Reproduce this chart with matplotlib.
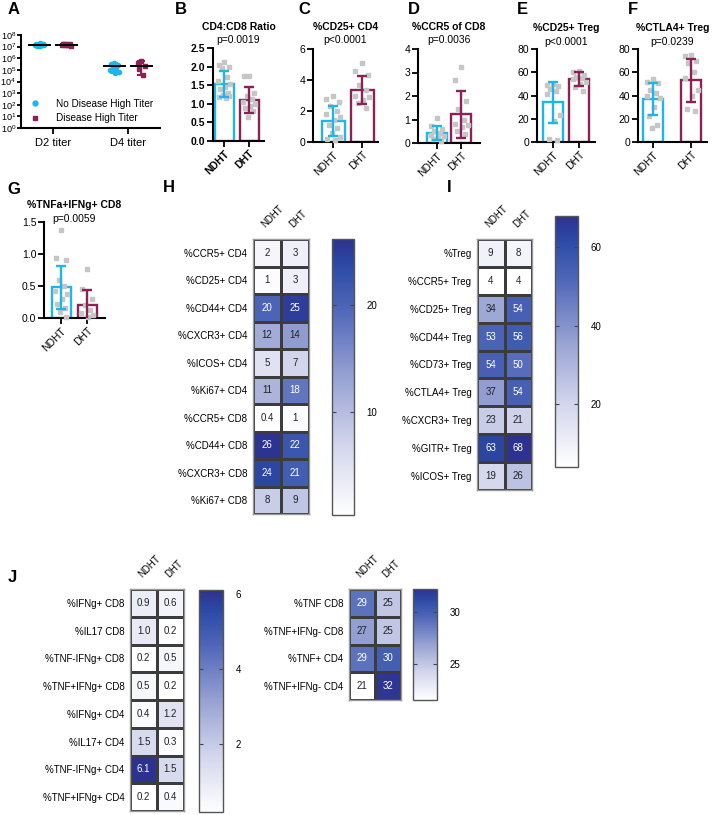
import numpy as np
import matplotlib
matplotlib.use("Agg")
import matplotlib.pyplot as plt
from matplotlib.colors import LinearSegmentedColormap
from matplotlib.lines import Line2D

plt.rcParams['font.family'] = ['Liberation Sans', 'DejaVu Sans']
plt.rcParams['mathtext.default'] = 'regular'

W, H = 714, 815
fig = plt.figure(figsize=(W / 100, H / 100), dpi=100)

CYAN = '#1DB6E9'
MAROON = '#8C2155'
PT = '#C6C6C6'

groups = ['NDHT', 'DHT']

# --- panel A: titers
titer_days = ['D2 titer', 'D4 titer']
a_nd_pts = [[1.9e7, 1.7e7, 1.6e7, 1.5e7, 1.45e7, 1.4e7, 1.3e7, 1.2e7, 1.1e7, 1.6e7],
            [4e5, 3e5, 2.5e5, 2e5, 1.5e5, 1e5, 6e4, 5e4]]
a_d_pts = [[1.8e7, 1.7e7, 1.6e7, 1.5e7, 1.4e7, 1.3e7, 1.2e7, 1.5e7, 1.65e7],
           [6e5, 4e5, 2e5, 1.2e5, 4e4]]
a_nd_mean = [1.5e7, 2.1e5]
a_nd_lo = [1.1e7, 5e4]
a_nd_hi = [1.9e7, 4e5]
a_d_mean = [1.5e7, 2.3e5]
a_d_lo = [1.15e7, 3.5e4]
a_d_hi = [1.8e7, 6e5]

# --- bar panels (mean, SD, points)
b_mean, b_sd = [1.52, 1.10], [0.35, 0.36]
b_nd = [2.12, 2.05, 1.98, 1.95, 1.72, 1.6, 1.52, 1.45, 1.4, 1.3, 1.25, 1.2, 1.18, 1.15]
b_d = [1.75, 1.75, 1.3, 1.2, 1.12, 1.05, 1.0, 0.95, 0.9, 0.8, 0.65]

c_mean, c_sd = [1.35, 3.35], [0.95, 0.92]
c_nd = [2.95, 2.75, 2.6, 2.3, 2.0, 1.8, 1.6, 1.4, 1.1, 0.9, 0.6, 0.3, 0.2, 0.1]
c_d = [5.1, 4.6, 4.3, 3.7, 3.35, 3.0, 2.9, 2.7, 2.5, 2.2]

d_mean, d_sd = [0.42, 1.23], [0.29, 1.0]
d_nd = [1.07, 0.72, 0.6, 0.5, 0.42, 0.35, 0.3, 0.2, 0.15, 0.1]
d_d = [3.25, 2.7, 1.8, 1.45, 1.0, 0.8, 0.75, 0.7, 0.5, 0.4]

e_mean, e_sd = [34, 54], [17.5, 6]
e_nd = [50, 49, 48, 46, 44, 41, 23, 18, 3, 2]
e_d = [61, 60, 58, 56, 55, 54, 52, 50, 47, 44]

f_mean, f_sd = [37, 53], [14, 18.5]
f_nd = [54, 52, 51, 45, 42, 40, 38, 30, 22, 15, 12]
f_d = [75, 74, 70, 68, 60, 55, 45, 40, 28, 27]

g_mean, g_sd = [0.48, 0.20], [0.34, 0.23]
g_nd = [1.37, 0.93, 0.91, 0.6, 0.5, 0.42, 0.38, 0.3, 0.22, 0.15, 0.1, 0.02]
g_d = [0.77, 0.45, 0.3, 0.2, 0.12, 0.08, 0.05, 0.02]

# --- heatmaps
h_rows = ['%CCR5+ CD4', '%CD25+ CD4', '%CD44+ CD4', '%CXCR3+ CD4', '%ICOS+ CD4',
          '%Ki67+ CD4', '%CCR5+ CD8', '%CD44+ CD8', '%CXCR3+ CD8', '%Ki67+ CD8']
h_ndht = [2, 1, 20, 12, 5, 11, 0.4, 26, 24, 8]
h_dht = [3, 3, 25, 14, 7, 18, 1, 22, 21, 9]

i_rows = ['%Treg', '%CCR5+ Treg', '%CD25+ Treg', '%CD44+ Treg', '%CD73+ Treg',
          '%CTLA4+ Treg', '%CXCR3+ Treg', '%GITR+ Treg', '%ICOS+ Treg']
i_ndht = [9, 4, 34, 53, 54, 37, 23, 63, 19]
i_dht = [8, 4, 54, 56, 50, 54, 21, 68, 26]

j1_rows = ['%IFNg+ CD8', '%IL17 CD8', '%TNF-IFNg+ CD8', '%TNF+IFNg+ CD8',
           '%IFNg+ CD4', '%IL17+ CD4', '%TNF-IFNg+ CD4', '%TNF+IFNg+ CD4']
j1_ndht = [0.9, 1.0, 0.2, 0.5, 0.4, 1.5, 6.1, 0.2]
j1_dht = [0.6, 0.2, 0.5, 0.2, 1.2, 0.3, 1.5, 0.4]

j2_rows = ['%TNF CD8', '%TNF+IFNg- CD8', '%TNF+ CD4', '%TNF+IFNg- CD4']
j2_ndht = [29, 27, 29, 21]
j2_dht = [25, 25, 30, 32]

cmap = LinearSegmentedColormap.from_list('gp', [
    (0.0, '#FFFFFF'), (0.25, '#D3D6EC'), (0.5, '#97A2D3'),
    (0.75, '#4F66B8'), (0.9, '#2C4CA6'), (1.0, '#2D3290')])

# offsets so dots spread inside the bar
JIT = [0, -0.22, 0.2, -0.1, 0.12, -0.25, 0.25, 0.05, -0.15, 0.15, -0.05, 0.22, -0.2, 0.08]


def box(l, t, r, b):
    return fig.add_axes([l / W, 1 - b / H, (r - l) / W, (b - t) / H])


def ftxt(x, y, s, **kw):
    fig.text(x / W, 1 - y / H, s, **kw)


def style_axes(ax):
    for s in ['top', 'right']:
        ax.spines[s].set_visible(False)
    for s in ['left', 'bottom']:
        ax.spines[s].set_linewidth(1.5)
    ax.tick_params(width=1.3, length=4, labelsize=7.5, pad=1.5)


def bar_panel(l, t, r, b, c1, c2, bw, ylim, yticks, ytl, means, sds, pts,
              title, ptxt, ty, py, bold=False):
    ax = box(l, t, r, b)
    sp = c2 - c1
    ax.set_xlim((l - c1) / sp, (r - c1) / sp)
    ax.set_ylim(*ylim)
    w = bw / sp
    cols = [CYAN, MAROON]
    for k in range(2):
        ax.bar(k, means[k], width=w, facecolor='white', edgecolor=cols[k],
               linewidth=1.7, zorder=2)
        xs = [k + JIT[i % len(JIT)] * w * 1.3 for i in range(len(pts[k]))]
        ax.plot(xs, pts[k], 's', ms=2.8, color=PT, zorder=3, clip_on=False)
        ax.errorbar(k, means[k], yerr=sds[k], color=cols[k], lw=1.7,
                    capsize=3.8, capthick=1.7, zorder=4)
    style_axes(ax)
    ax.set_yticks(yticks)
    ax.set_yticklabels(ytl, fontweight='bold' if bold else 'normal')
    ax.set_xticks([0, 1])
    ax.set_xticklabels(groups, rotation=45, ha='right', rotation_mode='anchor',
                       fontweight='bold' if bold else 'normal')
    cx = (l + r) / 2
    ftxt(cx, ty, title, ha='center', va='center', fontsize=7.5, fontweight='bold')
    ftxt(cx, py, ptxt, ha='center', va='center', fontsize=7.5)
    return ax


def heat(l, t, r, b, cl, ct, cr, cb, rows, nd, d, vmin, vmax, cticks, fmt):
    ax = box(l, t, r, b)
    data = np.column_stack([nd, d])
    mesh = ax.pcolormesh(data, cmap=cmap, vmin=vmin, vmax=vmax,
                         edgecolors='#3c3c3c', linewidth=0.9)
    ax.set_xlim(0, 2)
    ax.set_ylim(len(rows), 0)
    for i in range(len(rows)):
        for j in range(2):
            v = data[i, j]
            c = 'white' if (v - vmin) / (vmax - vmin) > 0.6 else '#222222'
            ax.text(j + 0.5, i + 0.5, fmt(v), ha='center', va='center',
                    fontsize=7, color=c)
    ax.set_yticks(np.arange(len(rows)) + 0.5)
    ax.set_yticklabels(rows, fontsize=7)
    ax.xaxis.tick_top()
    ax.set_xticks([0.5, 1.5])
    ax.set_xticklabels(groups, rotation=45, ha='left', va='bottom',
                       rotation_mode='anchor', fontsize=7)
    ax.tick_params(axis='y', length=0, pad=4)
    ax.tick_params(axis='x', length=0, pad=7)
    for s in ax.spines.values():
        s.set_color('#9a9a9a')
        s.set_linewidth(1.0)
    cax = box(cl, ct, cr, cb)
    cb_ = fig.colorbar(mesh, cax=cax)
    cb_.set_ticks(cticks)
    cb_.outline.set_edgecolor('#555555')
    cb_.outline.set_linewidth(1.0)
    cax.tick_params(axis='y', left=True, right=True, direction='in', length=3,
                    width=0.8, color='#444444', labelsize=7, labelleft=False,
                    labelright=True, pad=9)
    return ax


# ---------------- A
axA = box(21, 35, 160, 128)
axA.set_yscale('log')
axA.set_ylim(1, 1e8)
axA.set_xlim(-0.43, 1.43)
off = 0.18
jA = [0, -0.05, 0.05, -0.025, 0.025, -0.06, 0.06, 0.01, -0.04, 0.04]
for k in range(2):
    for pts, col, mk, sgn in [(a_nd_pts[k], CYAN, 'o', -1), (a_d_pts[k], MAROON, 's', 1)]:
        xs = [k + sgn * off + jA[i % len(jA)] for i in range(len(pts))]
        axA.plot(xs, pts, mk, ms=3.0, color=col, zorder=3)
    axA.errorbar(k - off, a_nd_mean[k],
                 yerr=[[a_nd_mean[k] - a_nd_lo[k]], [a_nd_hi[k] - a_nd_mean[k]]],
                 color=CYAN, lw=1.5, capsize=3, capthick=1.5, zorder=2)
    axA.errorbar(k + off, a_d_mean[k],
                 yerr=[[a_d_mean[k] - a_d_lo[k]], [a_d_hi[k] - a_d_mean[k]]],
                 color=MAROON, lw=1.5, capsize=3, capthick=1.5, zorder=2)
    axA.plot([k - off - 0.14, k - off + 0.14], [a_nd_mean[k]] * 2, color='black', lw=1.4, zorder=4)
    axA.plot([k + off - 0.14, k + off + 0.14], [a_d_mean[k]] * 2, color='black', lw=1.4, zorder=4)
style_axes(axA)
axA.set_yticks([10.0 ** e for e in range(9)])
axA.tick_params(axis='y', which='major', length=3, pad=0.5, labelsize=6.6)
axA.tick_params(axis='y', which='minor', length=2, width=0.8)
axA.set_xticks([0, 1])
axA.set_xticklabels(titer_days, fontsize=8)
axA.tick_params(axis='x', length=4, pad=3)
handles = [Line2D([], [], marker='o', ls='', color=CYAN, ms=3.5, label='No Disease High Titer'),
           Line2D([], [], marker='s', ls='', color=MAROON, ms=3.5, label='Disease High Titer')]
axA.legend(handles=handles, loc='lower left', bbox_to_anchor=(0.0, -0.045), frameon=False,
           fontsize=7.2, handletextpad=1.6, labelspacing=0.45, handlelength=1.0)

# ---------------- B-G
bar_panel(213, 48, 264, 141, 224, 249, 19, (0, 2.5), [0, 0.5, 1.0, 1.5, 2.0, 2.5],
          ['0.0', '0.5', '1.0', '1.5', '2.0', '2.5'], b_mean, b_sd, [b_nd, b_d],
          'CD4:CD8 Ratio', 'p=0.0019', 27, 40, bold=True)
bar_panel(313, 49, 378, 142, 333, 362, 23, (0, 6), [0, 2, 4, 6], ['0', '2', '4', '6'],
          c_mean, c_sd, [c_nd, c_d], '%CD25+ CD4', 'p<0.0001', 27, 40)
bar_panel(418, 49, 480, 143, 437, 461, 20, (0, 4), [0, 1, 2, 3, 4],
          ['0', '1', '2', '3', '4'], d_mean, d_sd, [d_nd, d_d],
          '%CCR5 of CD8', 'p=0.0036', 27, 40)
bar_panel(537, 49, 595, 142, 553, 579, 20, (0, 80), [0, 20, 40, 60, 80],
          ['0', '20', '40', '60', '80'], e_mean, e_sd, [e_nd, e_d],
          '%CD25+ Treg', 'p<0.0001', 28, 42)
bar_panel(638, 49, 707, 142, 653, 691, 20, (0, 80), [0, 20, 40, 60, 80],
          ['0', '20', '40', '60', '80'], f_mean, f_sd, [f_nd, f_d],
          '%CTLA4+ Treg', 'p=0.0239', 28, 42)
bar_panel(44, 222, 105, 318, 61, 87, 19, (0, 1.5), [0, 0.5, 1.0, 1.5],
          ['0.0', '0.5', '1.0', '1.5'], g_mean, g_sd, [g_nd, g_d],
          '%TNFa+IFNg+ CD8', 'p=0.0059', 205, 219)

# ---------------- heatmaps
heat(253, 239, 309, 514, 332, 239, 354, 515, h_rows, h_ndht, h_dht, 0.4, 26.2,
     [10, 20], lambda v: f"{v:g}")
heat(477, 239, 532, 490, 555, 216, 578, 467, i_rows, i_ndht, i_dht, 4, 68,
     [20, 40, 60], lambda v: f"{v:g}")
heat(130, 589, 184, 811, 199, 590, 223, 812, j1_rows, j1_ndht, j1_dht, 0.2, 6.1,
     [2, 4, 6], lambda v: f"{v:.1f}")
heat(349, 589, 401, 700, 413, 589, 437, 700, j2_rows, j2_ndht, j2_dht, 21.5, 32.2,
     [25, 30], lambda v: f"{v:g}")

# panel letters
for x, y, s in [(8, 10, 'A'), (175, 10, 'B'), (298, 10, 'C'), (408, 10, 'D'),
                (517, 10, 'E'), (628, 10, 'F'), (7, 190, 'G'), (163, 188, 'H'),
                (447, 188, 'I'), (8, 577, 'J')]:
    ftxt(x, y, s, ha='left', va='center', fontsize=12, fontweight='bold')

fig.savefig('out.png', dpi=100)
